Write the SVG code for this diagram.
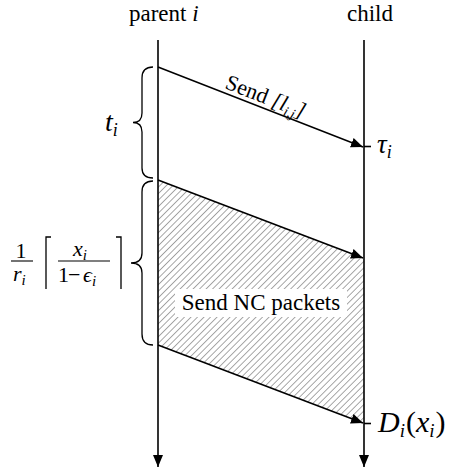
<svg xmlns="http://www.w3.org/2000/svg" width="452" height="476" viewBox="0 0 452 476">
  <style>
    .line { stroke: #000; stroke-width: 1.6; fill: none; }
    .brace { stroke: #000; stroke-width: 1.3; fill: none; }
    .bar { stroke: #000; stroke-width: 1.1; }
    text { font-family: "Liberation Serif", "DejaVu Serif", serif; fill: #000; }
    .math { font-style: italic; }
    .rm { font-style: normal; }
  </style>
  <defs>
    <marker id="head" markerUnits="userSpaceOnUse" markerWidth="14" markerHeight="12" refX="12" refY="5" orient="auto">
      <path d="M0,0 L12,5 L0,10 Z" fill="#000"/>
    </marker>
    <pattern id="hatch" patternUnits="userSpaceOnUse" width="4.6" height="4.6" patternTransform="rotate(45)">
      <line x1="0" y1="0" x2="0" y2="4.6" stroke="#8a8a8a" stroke-width="1.5"/>
    </pattern>
  </defs>

  <!-- hatched transmission interval -->
  <g id="nc-region">
    <polygon points="158,180 364,258 364,423 158,345" fill="url(#hatch)"/>
    <rect x="175" y="289" width="172" height="28" fill="#fff"/>
    <text x="261" y="310" font-size="23" text-anchor="middle">Send NC packets</text>
  </g>

  <!-- time lines -->
  <g id="parent">
    <text x="129" y="21" font-size="23">parent <tspan class="math">i</tspan></text>
    <line class="line" x1="158" y1="40" x2="158" y2="467" marker-end="url(#head)"/>
  </g>
  <g id="child">
    <text x="347" y="21" font-size="23">child</text>
    <line class="line" x1="364" y1="40" x2="364" y2="467" marker-end="url(#head)"/>
  </g>

  <!-- messages -->
  <g id="connectors">
    <line class="line" x1="158" y1="67" x2="363" y2="147" marker-end="url(#head)"/>
    <line class="line" x1="158" y1="180" x2="363" y2="258" marker-end="url(#head)"/>
    <line class="line" x1="158" y1="345" x2="363" y2="423" marker-end="url(#head)"/>
    <line class="line" x1="364" y1="146.5" x2="371" y2="146.5"/>
    <line class="line" x1="364" y1="423.5" x2="371" y2="423.5"/>
    <text font-size="22" transform="translate(224,88) rotate(21.2)">Send <tspan class="math">[l</tspan><tspan class="math" font-size="14" dy="4">i,j</tspan><tspan class="math" dy="-4">]</tspan></text>
  </g>

  <!-- time annotations -->
  <g id="tau">
    <text class="math" x="377" y="153" font-size="27">τ<tspan font-size="18" dy="5">i</tspan></text>
  </g>
  <g id="delay">
    <text class="math" x="378" y="432" font-size="30">D<tspan font-size="19" dy="5">i</tspan><tspan class="rm" dy="-5" dx="1">(</tspan>x<tspan font-size="19" dy="5">i</tspan><tspan class="rm" dy="-5" dx="1">)</tspan></text>
  </g>

  <g id="brace-ti">
    <path class="brace" d="M153,67 Q142,67 142,78 L142,113 Q142,122.5 133,122.5 Q142,122.5 142,132 L142,168 Q142,178 153,178"/>
    <text class="math" x="105" y="131" font-size="28">t<tspan font-size="18" dy="5">i</tspan></text>
  </g>

  <g id="brace-nc">
    <path class="brace" d="M153,181 Q142,181 142,192 L142,253 Q142,263 131,263 Q142,263 142,273 L142,334 Q142,345 153,345"/>
    <!-- 1/r_i -->
    <text x="21" y="258" font-size="22" text-anchor="middle">1</text>
    <line class="bar" x1="11" y1="261" x2="33" y2="261"/>
    <text class="math" x="13" y="281" font-size="22">r<tspan font-size="15" dy="4">i</tspan></text>
    <!-- ceiling brackets -->
    <path class="brace" d="M46,289 L46,237 L51,237"/>
    <path class="brace" d="M116,237 L121,237 L121,289"/>
    <!-- x_i / (1 - eps_i) -->
    <text class="math" x="73" y="256" font-size="22">x<tspan font-size="15" dy="4">i</tspan></text>
    <line class="bar" x1="58" y1="261" x2="110" y2="261"/>
    <text class="math" font-size="22" y="282"><tspan class="rm" x="58">1</tspan><tspan class="rm" x="68">−</tspan><tspan x="83">ϵ</tspan><tspan font-size="15" dy="4">i</tspan></text>
  </g>
</svg>
